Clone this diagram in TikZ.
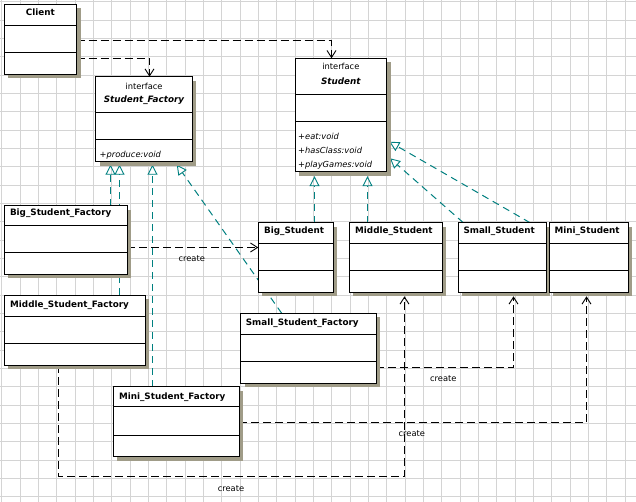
\documentclass[tikz,border=0pt]{standalone}
\usepackage{fontspec}
\setmainfont{DejaVu Sans}
\usetikzlibrary{arrows.meta,calc,shadows,backgrounds}
\definecolor{umlteal}{RGB}{0,128,128}
\definecolor{umlshade}{RGB}{160,156,136}
\definecolor{gridgray}{RGB}{212,212,212}

\begin{document}
\begin{tikzpicture}[x=1pt, y=-1pt,
	cls/.style={draw, line width=0.9pt, fill=white, anchor=north west, inner sep=0pt, outer sep=0pt,
		drop shadow={opacity=1, fill=umlshade, shadow xshift=4pt, shadow yshift=-4pt}},
	ttl/.style={font=\fontsize{8.8}{10}\selectfont\bfseries, anchor=base west, inner sep=0pt},
	txt/.style={font=\fontsize{8.3}{10}\selectfont, anchor=base, inner sep=0pt},
	mbr/.style={font=\fontsize{8.3}{10}\selectfont\itshape, anchor=base west, inner sep=0pt},
	real/.style={umlteal, line width=1pt, dash pattern=on 7pt off 5pt,
		-{Triangle[open, length=10pt, width=10pt, line width=0.9pt]}},
	dep/.style={black, line width=1pt, dash pattern=on 8pt off 4pt,
		-{Straight Barb[length=7pt, width=9pt, line width=0.9pt]}}]
	\useasboundingbox (0,0) rectangle (636,502);

	% class boxes
	\node[cls, minimum width=72.7pt, minimum height=69.7pt] 	(client) 	at (4,4.3) 		{};
	\node[cls, minimum width=96.6pt, minimum height=85pt] 		(sfac) 		at (95.7,76.7) 	{};
	\node[cls, minimum width=91.7pt, minimum height=113.4pt] 	(stu) 		at (295,58.3) 	{};
	\node[cls, minimum width=122.7pt, minimum height=68.6pt] 	(bsf) 		at (4.3,205.7) 	{};
	\node[cls, minimum width=140.7pt, minimum height=70pt] 		(msf) 		at (4.3,295) 	{};
	\node[cls, minimum width=135.3pt, minimum height=70pt] 		(ssf) 		at (240.7,313.3) {};
	\node[cls, minimum width=126pt, minimum height=70pt] 		(mif) 		at (113.3,386.7) {};
	\node[cls, minimum width=75pt, minimum height=69.6pt] 		(bstu) 		at (258.3,222.7) {};
	\node[cls, minimum width=93pt, minimum height=69.6pt] 		(mdstu) 	at (349.3,222.7) {};
	\node[cls, minimum width=87.7pt, minimum height=69.6pt] 	(smstu) 	at (458.3,222.7) {};
	\node[cls, minimum width=79pt, minimum height=69.6pt] 		(mistu) 	at (549.3,222.7) {};

	\foreach \n/\a/\b in {client/20.7/48, sfac/35.6/62.6, stu/35.7/62.7, bsf/19.6/46.6, msf/21/48.3,
		ssf/21/48, mif/20/48.3, bstu/20.6/48, mdstu/20.6/48, smstu/20.6/48, mistu/20.6/48} {
		\draw[line width=0.9pt] ($(\n.north west)+(0,\a)$) -- ($(\n.north east)+(0,\a)$);
		\draw[line width=0.9pt] ($(\n.north west)+(0,\b)$) -- ($(\n.north east)+(0,\b)$);
	}

	% texts
	\node[ttl, anchor=base] (client-t) at (40.35,16) {Client};
	\node[txt] (sfac-i) at (144,89.3) {interface};
	\node[ttl, anchor=base, font=\fontsize{8.8}{10}\selectfont\bfseries\itshape] (sfac-t) at (144,102.3) {Student\_Factory};
	\node[mbr] (sfac-m) at (99.5,157.3) {+produce:void};
	\node[txt] (stu-i) at (340.85,70) {interface};
	\node[ttl, anchor=base, font=\fontsize{8.8}{10}\selectfont\bfseries\itshape] (stu-t) at (340.85,84.3) {Student};
	\node[mbr] (stu-m1) at (298,139.3) {+eat:void};
	\node[mbr] (stu-m2) at (298,153.3) {+hasClass:void};
	\node[mbr] (stu-m3) at (298,167.8) {+playGames:void};
	\node[ttl] (bsf-t) at (9.8,216) {Big\_Student\_Factory};
	\node[ttl] (msf-t) at (10,307.3) {Middle\_Student\_Factory};
	\node[ttl] (ssf-t) at (245.7,325.7) {Small\_Student\_Factory};
	\node[ttl] (mif-t) at (118.8,399) {Mini\_Student\_Factory};
	\node[ttl] (bstu-t) at (264,234) {Big\_Student};
	\node[ttl] (mdstu-t) at (355,234) {Middle\_Student};
	\node[ttl] (smstu-t) at (463.3,234) {Small\_Student};
	\node[ttl] (mistu-t) at (554.3,234) {Mini\_Student};
	\node[txt] (cr1) at (191.7,261.7) {create};
	\node[txt] (cr2) at (443.3,381.7) {create};
	\node[txt] (cr3) at (411.8,436) {create};
	\node[txt] (cr4) at (231,491) {create};

	\begin{scope}[on background layer]
		\fill[white] (0,0) rectangle (636,502);
		\foreach \k in {0,...,34}
			\draw[gridgray, line width=0.6pt] ({1.7+18.33*\k},0) -- ({1.7+18.33*\k},502);
		\foreach \k in {0,...,27}
			\draw[gridgray, line width=0.6pt] (0,{1.7+18.33*\k}) -- (636,{1.7+18.33*\k});

		% uses
		\draw[dep] ($(client.north east)+(0,54)$) -| ($(sfac.north west)+(53.8,0)$);
		\draw[dep] ($(client.north east)+(0,36.2)$) -| ($(stu.north west)+(36.5,0)$);

		% realizations
		\draw[real, shorten >=3pt] ($(bsf.north west)+(106.2,0)$) -- ($(sfac.south west)+(14.8,0)$);
		\draw[real, shorten >=3pt] ($(msf.north west)+(115.2,0)$) -- ($(sfac.south west)+(23.8,0)$);
		\draw[real, shorten >=3pt] ($(mif.north west)+(39.2,0)$) -- ($(sfac.south west)+(56.8,0)$);
		\draw[real] ($(ssf.north west)+(41,0)$) -- ($(sfac.south east)+(-15.5,3)$);
		\draw[real, shorten >=4.5pt] ($(bstu.north west)+(56.2,0)$) -- ($(stu.south west)+(19.5,0)$);
		\draw[real, shorten >=4.5pt] ($(mdstu.north west)+(18.2,0)$) -- ($(stu.south west)+(72.5,0)$);
		\draw[real] ($(smstu.north west)+(5,0)$) -- ($(stu.south east)+(3.3,-13.4)$);
		\draw[real] ($(mistu.north west)+(-19.3,0)$) -- ($(stu.south east)+(2.6,-30)$);

		% create
		\draw[dep] ($(bsf.north east)+(0,41.8)$) -- ($(bstu.north west)+(0,24.8)$);
		\draw[dep, shorten >=4pt] ($(ssf.north east)+(0,54.2)$) -| ($(smstu.south west)+(55.2,0)$);
		\draw[dep, shorten >=4pt] ($(mif.north east)+(0,35.8)$) -| ($(mistu.south west)+(37.2,0)$);
		\draw[dep, shorten >=4pt] ($(msf.south west)+(54.2,0)$) -- ++(0,111.5) -| ($(mdstu.south west)+(55.2,0)$);
	\end{scope}
\end{tikzpicture}
\end{document}
